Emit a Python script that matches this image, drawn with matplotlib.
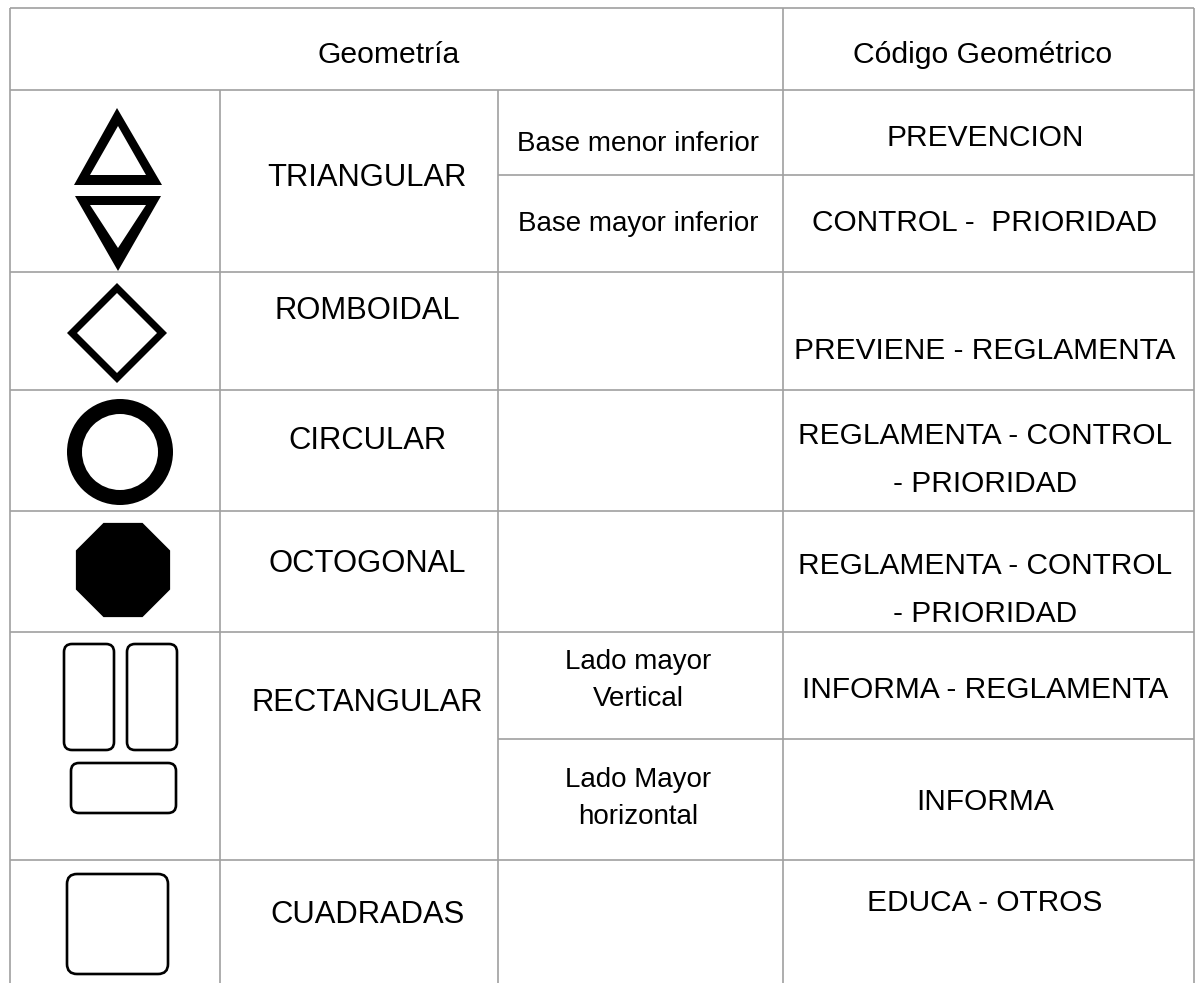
import numpy as np
import matplotlib
matplotlib.use('Agg')
import matplotlib.pyplot as plt
from matplotlib.patches import Polygon, Circle, FancyBboxPatch

plt.rcParams['font.family'] = ['Liberation Sans', 'DejaVu Sans']

# encabezados
headers = ['Geometría', 'Código Geométrico']
head_x = [389, 983]
head_base = 63

# filas de la tabla
geometria = ['TRIANGULAR', 'ROMBOIDAL', 'CIRCULAR', 'OCTOGONAL', 'RECTANGULAR', 'CUADRADAS']
geo_base = [186, 319, 449, 572, 711, 923]

subtipos = ['Base menor inferior', 'Base mayor inferior',
            'Lado mayor\nVertical', 'Lado Mayor\nhorizontal']
sub_base = [151, 231, 706, 824]   # linea inferior de cada texto

codigos = ['PREVENCION', 'CONTROL -  PRIORIDAD', 'PREVIENE - REGLAMENTA',
           'REGLAMENTA - CONTROL\n- PRIORIDAD', 'REGLAMENTA - CONTROL\n- PRIORIDAD',
           'INFORMA - REGLAMENTA', 'INFORMA', 'EDUCA - OTROS']
cod_base = [146, 231, 359, 492, 622, 698, 810, 911]   # linea inferior

# lineas de la tabla (px)
col_x = [10, 220, 498, 783, 1194]
fila_y = [8, 90, 272, 390, 511, 632, 860, 983]
sub_lineas = [175, 739]

W, H = 1196, 983
fig = plt.figure(figsize=(W / 100, H / 100), dpi=100)
ax = fig.add_axes([0, 0, 1, 1])
ax.set_xlim(0, W)
ax.set_ylim(H, 0)
ax.axis('off')

gris = '#a0a0a0'
lw = 1.2
ax.hlines(fila_y[:-1], col_x[0], col_x[-1], color=gris, lw=lw)
ax.hlines(sub_lineas, col_x[2], col_x[-1], color=gris, lw=lw)
ax.vlines([col_x[0], col_x[3], col_x[4]], fila_y[0], H, color=gris, lw=lw)
ax.vlines([col_x[1], col_x[2]], fila_y[1], H, color=gris, lw=lw)

for t, x in zip(headers, head_x):
    ax.text(x, head_base, t, ha='center', va='baseline', fontsize=21.7)

for t, y in zip(geometria, geo_base):
    ax.text(367, y, t, ha='center', va='baseline', fontsize=22.3)

for t, y in zip(subtipos, sub_base):
    ax.text(638, y, t, ha='center', va='baseline', fontsize=20, linespacing=1.56)

for t, y in zip(codigos, cod_base):
    ax.text(985, y, t, ha='center', va='baseline', fontsize=21.5, linespacing=1.9)

# iconos
tri_up_out = [(117, 108), (74, 185), (162, 185)]
tri_up_in = [(118, 126), (90, 175), (146, 175)]
tri_dn_out = [(75, 196), (161, 196), (118, 271)]
tri_dn_in = [(90, 205), (146, 205), (118, 248)]
rombo_out = [(117, 283), (167, 333), (117, 383), (67, 333)]
rombo_in = [(117, 293), (157, 333), (117, 373), (77, 333)]

for out, inn in [(tri_up_out, tri_up_in), (tri_dn_out, tri_dn_in), (rombo_out, rombo_in)]:
    ax.add_patch(Polygon(out, closed=True, fc='black', ec='none'))
    ax.add_patch(Polygon(inn, closed=True, fc='white', ec='none'))

ax.add_patch(Circle((120, 452), 53, fc='black', ec='none'))
ax.add_patch(Circle((120, 452), 38, fc='white', ec='none'))

ang = np.deg2rad(22.5 + 45 * np.arange(8))
R = 51
octo = np.column_stack([123 + R * np.cos(ang), 570 + R * np.sin(ang)])
ax.add_patch(Polygon(octo, closed=True, fc='black', ec='none'))

rects = [(64, 644, 50, 106), (127, 644, 50, 106), (71, 763, 105, 50), (67, 874, 101, 100)]
radios = [8, 8, 8, 10]
for (x, y, w, h), r in zip(rects, radios):
    ax.add_patch(FancyBboxPatch((x, y), w, h, boxstyle=f'round,pad=0,rounding_size={r}',
                                fc='none', ec='black', lw=1.9))

fig.savefig('out.png', dpi=100, facecolor='white')
